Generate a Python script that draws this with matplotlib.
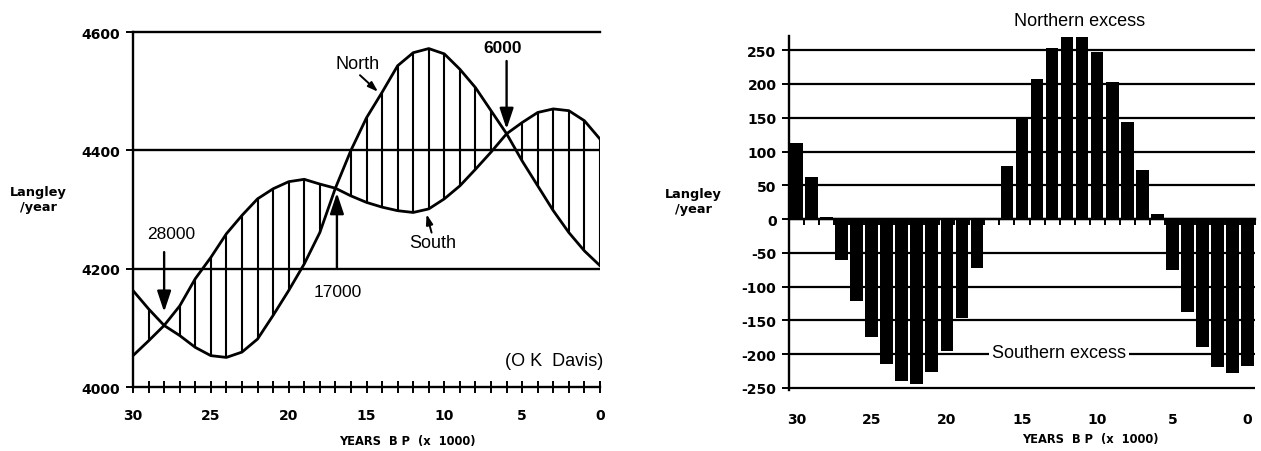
import matplotlib
matplotlib.use("Agg")
import matplotlib.pyplot as plt
import numpy as np

# ---------------- data ----------------
years = list(range(30, -1, -1))  # years BP (x 1000)
north = [4163, 4132, 4104, 4087, 4067, 4053, 4050, 4059, 4081, 4121, 4163,
         4208, 4261, 4336, 4400, 4455, 4498, 4543, 4565, 4572, 4563,
         4537, 4506, 4467, 4428, 4382, 4340, 4298, 4261, 4230, 4205]
south = [4053, 4078, 4104, 4137, 4183, 4219, 4259, 4290, 4318, 4335, 4347,
         4351, 4343, 4336, 4323, 4312, 4304, 4298, 4295, 4301, 4318,
         4340, 4368, 4397, 4428, 4447, 4464, 4470, 4467, 4450, 4419]
excess = [113, 62, 3, -61, -121, -175, -214, -240, -244, -226, -195,
          -147, -72, 0, 78, 151, 207, 253, 269, 269, 248,
          203, 144, 72, 7, -75, -138, -189, -219, -228, -217]
left_yticks = [4000, 4200, 4400, 4600]
right_yticks = [250, 200, 150, 100, 50, 0, -50, -100, -150, -200, -250]
label_years = [30, 25, 20, 15, 10, 5, 0]

W, H = 1261, 452
fig = plt.figure(figsize=(W / 100, H / 100), dpi=100)
fig.patch.set_facecolor("white")

TICKFONT = dict(family="DejaVu Sans", weight="bold", size=10)
ANNFONT = dict(family="Liberation Sans", size=13)


def box(x0, y0, x1, y1):
    return [x0 / W, 1 - y1 / H, (x1 - x0) / W, (y1 - y0) / H]


# ---------------- left chart ----------------
ax = fig.add_axes(box(133, 33, 600, 388))
ax.set_xlim(30, 0)
ax.set_ylim(4000, 4600)
ax.spines["right"].set_visible(False)
for s in ("left", "top", "bottom"):
    ax.spines[s].set_linewidth(1.7)
ax.set_yticks(left_yticks)
ax.set_yticklabels([str(v) for v in left_yticks], fontdict=TICKFONT)
ax.tick_params(axis="y", direction="out", length=5, width=1.4, pad=4)
ax.set_xticks(years)
ax.set_xticklabels([str(y) if y in label_years else "" for y in years], fontdict=TICKFONT)
ax.tick_params(axis="x", direction="inout", length=8, width=1.4, pad=11)
for v in left_yticks[1:-1]:
    ax.axhline(v, color="black", lw=1.7, zorder=1)

ax.vlines(years, south, north, color="black", lw=1.5, zorder=2)
ax.plot(years, north, color="black", lw=2.0, zorder=3)
ax.plot(years, south, color="black", lw=2.0, zorder=3)

arrow = dict(arrowstyle="-|>,head_length=0.9,head_width=0.3", lw=1.7,
             color="black", shrinkA=0, shrinkB=0, mutation_scale=14)
ax.annotate("", xy=(28, 4127), xytext=(28, 4228), arrowprops=arrow)
ax.text(27.56, 4260, "28000", ha="center", va="center", fontsize=12.5, family="Liberation Sans")
ax.annotate("", xy=(16.9, 4328), xytext=(16.9, 4200), arrowprops=arrow)
ax.text(16.87, 4161, "17000", ha="center", va="center", fontsize=12.5, family="Liberation Sans")
ax.annotate("", xy=(6.0, 4436), xytext=(6.0, 4551), arrowprops=arrow)
ax.text(6.24, 4574, "6000", ha="center", va="center", fontsize=12.5,
        family="Liberation Sans", weight="bold")

small = dict(arrowstyle="-|>,head_length=0.6,head_width=0.2", lw=1.4,
             color="black", shrinkA=0, shrinkB=0, mutation_scale=10)
ax.text(15.55, 4546, "North", ha="center", va="center", **ANNFONT)
ax.annotate("", xy=(14.26, 4499), xytext=(15.42, 4527), arrowprops=small)
ax.text(10.73, 4244, "South", ha="center", va="center", **ANNFONT)
ax.annotate("", xy=(11.14, 4292), xytext=(10.82, 4261), arrowprops=small)
ax.text(-0.2, 4044, "(O K  Davis)", ha="right", va="center", **ANNFONT)

fig.text(38 / W, 1 - 200 / H, "Langley\n/year", ha="center", va="center",
         family="DejaVu Sans", weight="bold", size=9.3, linespacing=1.25)
fig.text(407 / W, 1 - 442 / H, "YEARS  B P  (x  1000)", ha="center", va="center",
         family="DejaVu Sans", weight="bold", size=8.3)

# ---------------- right chart ----------------
ymin, ymax = -253, 271
bx = fig.add_axes(box(789, 37, 1255, 391))
bx.set_xlim(30.5, -0.5)
bx.set_ylim(ymin, ymax)
for s in ("right", "top", "bottom"):
    bx.spines[s].set_visible(False)
bx.spines["left"].set_linewidth(1.7)
bx.set_yticks(right_yticks)
bx.set_yticklabels([str(v) for v in right_yticks], fontdict=TICKFONT)
bx.tick_params(axis="y", direction="out", length=5, width=1.4, pad=4)
bx.set_xticks(label_years)
bx.set_xticklabels([str(y) for y in label_years], fontdict=TICKFONT)
bx.tick_params(axis="x", length=0, pad=16)
for v in right_yticks:
    bx.axhline(v, color="black", lw=1.6, zorder=1)

bx.bar(years, excess, width=0.84, color="black", zorder=3)

sec = bx.secondary_xaxis((0 - ymin) / (ymax - ymin))
sec.set_xticks([y + 0.5 for y in years] + [-0.5])
sec.set_xticklabels([])
sec.tick_params(direction="out", length=4, width=1.4)
sec.spines["bottom"].set_linewidth(1.7)

bx.text(11.14, 294, "Northern excess", ha="center", va="center", clip_on=False, **ANNFONT)
bx.text(12.53, -198, "Southern excess", ha="center", va="center", zorder=2,
        bbox=dict(facecolor="white", edgecolor="none", pad=2), **ANNFONT)

fig.text(693 / W, 1 - 202 / H, "Langley\n/year", ha="center", va="center",
         family="DejaVu Sans", weight="bold", size=9.3, linespacing=1.25)
fig.text(1090 / W, 1 - 440 / H, "YEARS  B P  (x  1000)", ha="center", va="center",
         family="DejaVu Sans", weight="bold", size=8.3)

fig.savefig("out.png", dpi=100, facecolor="white")
